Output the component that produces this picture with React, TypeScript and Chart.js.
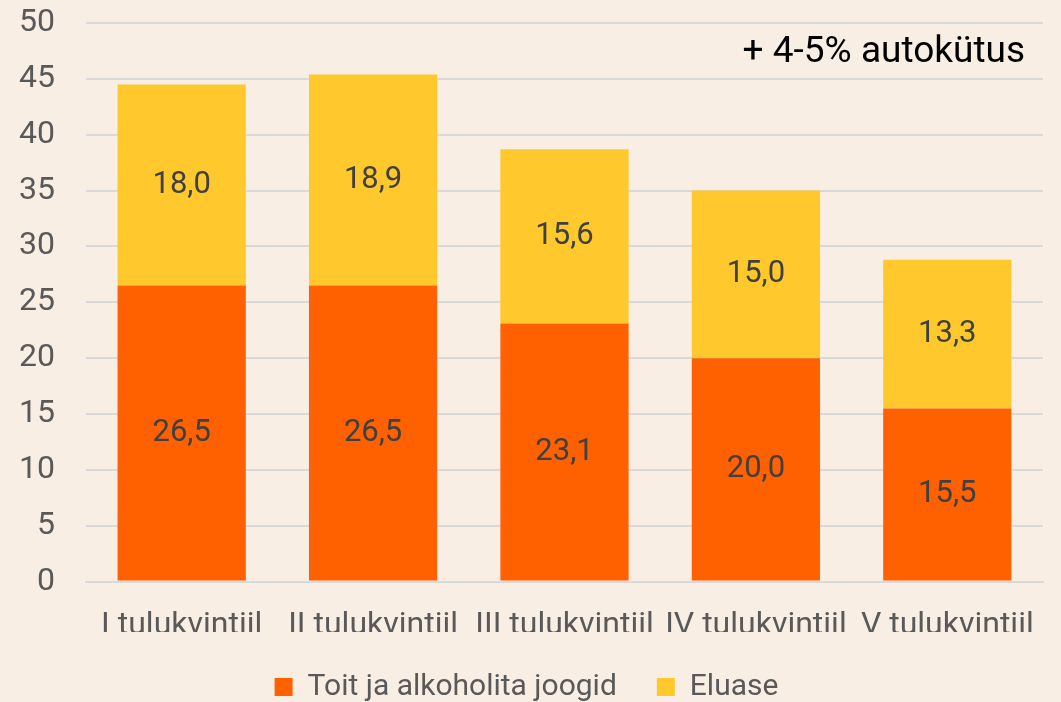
import React, { useEffect, useRef } from "react";
import { Chart, registerables } from "chart.js";

Chart.register(...registerables);

const categories = ["I tulukvintiil", "II tulukvintiil", "III tulukvintiil", "IV tulukvintiil", "V tulukvintiil"];
const toit = [26.5, 26.5, 23.1, 20.0, 15.5];
const eluase = [18.0, 18.9, 15.6, 15.0, 13.3];
const seriesNames = ["Toit ja alkoholita joogid", "Eluase"];
const annotationText = "+ 4-5% autokütus";

const fmt = (v: number) => v.toFixed(1).replace(".", ",");

const labelsPlugin = {
  id: "barLabels",
  afterDatasetsDraw(chart: any) {
    const ctx = chart.ctx;
    ctx.save();
    ctx.font = "31px Roboto";
    ctx.fillStyle = "#404040";
    ctx.textAlign = "center";
    ctx.textBaseline = "middle";
    chart.data.datasets.forEach((ds: any, di: number) => {
      const meta = chart.getDatasetMeta(di);
      meta.data.forEach((bar: any, i: number) => {
        const y = (bar.y + bar.base) / 2;
        ctx.fillText(fmt(ds.data[i]), bar.x, y);
      });
    });
    // annotation
    const ca = chart.chartArea;
    ctx.font = "37px Roboto";
    ctx.fillStyle = "#000000";
    ctx.textAlign = "right";
    ctx.textBaseline = "middle";
    ctx.fillText(annotationText, ca.right - 18, ca.top + 30);
    ctx.restore();
  },
};

export default function App() {
  const ref = useRef<HTMLCanvasElement>(null);
  useEffect(() => {
    document.body.style.margin = "0";
    document.body.style.background = "#F9EEE4";
    const chart = new Chart(ref.current!, {
      type: "bar",
      data: {
        labels: categories,
        datasets: [
          { label: seriesNames[0], data: toit, backgroundColor: "#FF6000", barPercentage: 0.67, categoryPercentage: 1 },
          { label: seriesNames[1], data: eluase, backgroundColor: "#FFC82C", barPercentage: 0.67, categoryPercentage: 1 },
        ],
      },
      options: {
        animation: false,
        responsive: false,
        layout: { padding: { top: 23, right: 18, left: 10, bottom: -10 } },
        scales: {
          x: {
            stacked: true,
            grid: { display: false, drawTicks: false },
            border: { color: "#D9D9D9", width: 2 },
            ticks: { font: { family: "Roboto", size: 32 }, color: "#595959", padding: 25, maxRotation: 0, autoSkip: false },
            afterFit: (s: any) => {
              s.height = s.height - 38;
            },
          },
          y: {
            stacked: true,
            min: 0,
            max: 50,
            grid: { color: "#D9D9D9", lineWidth: 2, drawTicks: false },
            border: { display: false },
            ticks: { stepSize: 5, font: { family: "Roboto", size: 32 }, color: "#595959", padding: 31 },
            afterFit: (s: any) => {
              s.width = 76;
              s.paddingTop = 0;
              s.paddingBottom = 0;
            },
          },
        },
        plugins: {
          legend: {
            position: "bottom",
            labels: { boxWidth: 18, boxHeight: 18, font: { family: "Roboto", size: 30 }, color: "#595959", padding: 40 },
          },
          tooltip: { enabled: false },
        },
      },
      plugins: [labelsPlugin],
    });
    return () => chart.destroy();
  }, []);
  return (
    <div style={{ width: 1061, height: 702, background: "#F9EEE4" }}>
      <canvas ref={ref} width={1061} height={702} />
    </div>
  );
}
